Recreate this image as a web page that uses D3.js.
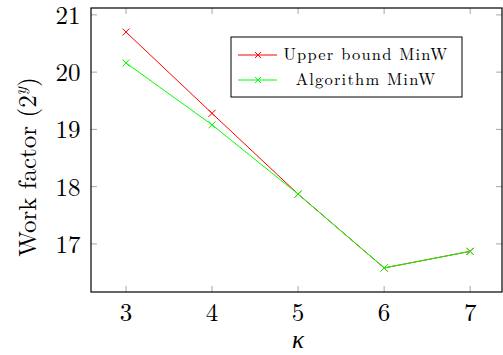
<!DOCTYPE html>
<html>
<head>
<meta charset="utf-8">
<script src="https://cdn.jsdelivr.net/npm/d3@7"></script>
<style>
  html, body { margin: 0; padding: 0; background: #fff; }
</style>
</head>
<body>
<svg id="chart" width="503" height="355"></svg>
<script>
// κ values on the x axis
const kappa = [3, 4, 5, 6, 7];
// work factor, log2
const upperBound = [20.70, 19.28, 17.87, 16.58, 16.87];
const algorithm = [20.16, 19.08, 17.87, 16.58, 16.87];
const xTicks = [3, 4, 5, 6, 7];
const yTicks = [17, 18, 19, 20, 21];
const seriesNames = ["Upper bound MinW", "Algorithm MinW"];
const seriesColors = ["#ff0000", "#00ff00"];

const FONT = "Latin Modern Roman, CMU Serif, serif";
const svg = d3.select("#chart");
const m = { left: 91, right: 502, top: 8, bottom: 292 };

const x = d3.scaleLinear().domain([2.593, 7.37]).range([m.left, m.right]);
const y = d3.scaleLinear().domain([16.16, 21.12]).range([m.bottom, m.top]);

const tickColor = "#a8a8a8";
const tickLen = 6;

// tick marks on all four sides, pointing inwards
const g = svg.append("g");
xTicks.forEach(t => {
  g.append("line").attr("x1", x(t)).attr("x2", x(t)).attr("y1", m.bottom).attr("y2", m.bottom - tickLen)
    .attr("stroke", tickColor).attr("stroke-width", 1);
  g.append("line").attr("x1", x(t)).attr("x2", x(t)).attr("y1", m.top).attr("y2", m.top + tickLen)
    .attr("stroke", tickColor).attr("stroke-width", 1);
});
yTicks.forEach(t => {
  g.append("line").attr("x1", m.left).attr("x2", m.left + tickLen).attr("y1", y(t)).attr("y2", y(t))
    .attr("stroke", tickColor).attr("stroke-width", 1);
  g.append("line").attr("x1", m.right).attr("x2", m.right - tickLen).attr("y1", y(t)).attr("y2", y(t))
    .attr("stroke", tickColor).attr("stroke-width", 1);
});

// tick labels
xTicks.forEach(t => {
  svg.append("text").attr("x", x(t)).attr("y", 320.5).attr("text-anchor", "middle")
    .attr("font-family", FONT).attr("font-size", 25).text(t);
});
yTicks.forEach(t => {
  svg.append("text").attr("x", 80.5).attr("y", y(t) + 9).attr("text-anchor", "end")
    .attr("font-family", FONT).attr("font-size", 25).text(t);
});

// series lines and cross markers
const line = d3.line().x((d, i) => x(kappa[i])).y(d => y(d));
[upperBound, algorithm].forEach((vals, si) => {
  const col = seriesColors[si];
  svg.append("path").attr("d", line(vals)).attr("fill", "none")
    .attr("stroke", col).attr("stroke-width", 1);
  vals.forEach((v, i) => {
    const cx = x(kappa[i]), cy = y(v), r = 3.5;
    svg.append("path")
      .attr("d", `M${cx - r},${cy - r}L${cx + r},${cy + r}M${cx - r},${cy + r}L${cx + r},${cy - r}`)
      .attr("stroke", col).attr("stroke-width", 1);
  });
});

// frame
svg.append("rect").attr("x", m.left).attr("y", m.top)
  .attr("width", m.right - m.left).attr("height", m.bottom - m.top)
  .attr("fill", "none").attr("stroke", "#000").attr("stroke-width", 1.2);

// axis titles
svg.append("text").attr("x", x(5)).attr("y", 348).attr("text-anchor", "middle")
  .attr("font-family", FONT).attr("font-size", 25).attr("font-style", "italic").text("κ");
const yl = svg.append("text").attr("transform", `translate(36,167) rotate(-90)`)
  .attr("text-anchor", "middle").attr("font-family", FONT).attr("font-size", 25);
yl.append("tspan").text("Work factor (2");
yl.append("tspan").attr("font-size", 17).attr("font-style", "italic").attr("dy", -10).text("y");
yl.append("tspan").attr("dy", 10).text(")");

// legend
const lg = svg.append("g");
lg.append("rect").attr("x", 231).attr("y", 37).attr("width", 231).attr("height", 60)
  .attr("fill", "#fff").attr("stroke", "#000").attr("stroke-width", 1);
seriesNames.forEach((name, i) => {
  const ly = 55 + i * 25;
  lg.append("line").attr("x1", 238).attr("x2", 277).attr("y1", ly).attr("y2", ly)
    .attr("stroke", seriesColors[i]).attr("stroke-width", 1);
  const r = 3;
  lg.append("path").attr("d", `M${258 - r},${ly - r}L${258 + r},${ly + r}M${258 - r},${ly + r}L${258 + r},${ly - r}`)
    .attr("stroke", seriesColors[i]).attr("stroke-width", 1);
  lg.append("text").attr("x", 366).attr("y", ly + 4.5).attr("text-anchor", "middle")
    .attr("font-family", FONT).attr("font-size", 16.5).attr("letter-spacing", 1.2).text(name);
});
</script>
</body>
</html>
